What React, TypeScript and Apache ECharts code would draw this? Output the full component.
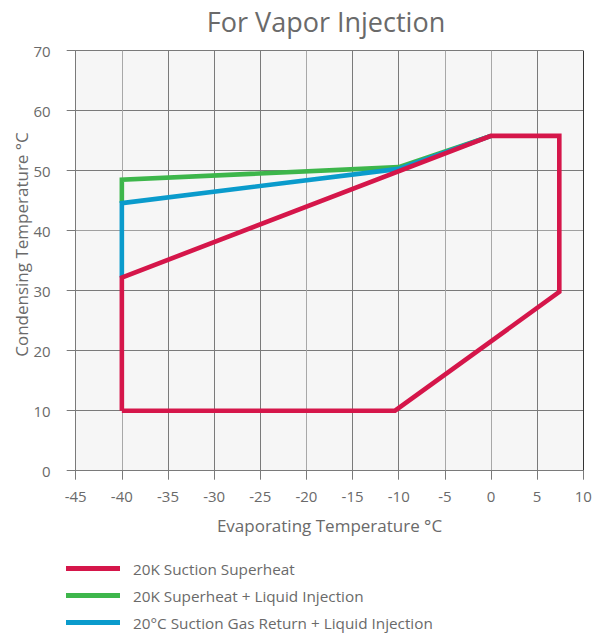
import React, { useEffect, useRef } from "react";
import * as echarts from "echarts";

const title = "For Vapor Injection";
const xAxisName = "Evaporating Temperature °C";
const yAxisName = "Condensing Temperature °C";
const seriesNames = [
  "20K Suction Superheat",
  "20K Superheat + Liquid Injection",
  "20°C Suction Gas Return + Liquid Injection",
];
const seriesColors = ["#d5164a", "#3db64b", "#0a9bcc"];

// [evaporating, condensing]
const suctionSuperheat: number[][] = [
  [-40, 10],
  [-10.4, 10],
  [7.4, 29.8],
  [7.4, 55.8],
  [0, 55.8],
  [-40, 32.2],
  [-40, 10],
];
const superheatLiquidInjection: number[][] = [
  [-40, 44.6],
  [-40, 48.5],
  [-10, 50.6],
  [0, 55.8],
];
const gasReturnLiquidInjection: number[][] = [
  [-40, 32.2],
  [-40, 44.6],
  [-10, 50.3],
  [0, 55.8],
];

const FONT = "Open Sans";
const TEXT = "#6a6a6a";

export default function App() {
  const ref = useRef<HTMLDivElement>(null);
  useEffect(() => {
    document.body.style.margin = "0";
    const chart = echarts.init(ref.current!, undefined, { renderer: "svg" });
    const lineSeries = (name: string, data: number[][], color: string, z: number) => ({
      name,
      type: "line",
      data,
      showSymbol: false,
      symbol: "none",
      z,
      lineStyle: { color, width: 4.6, join: "miter", cap: "butt" },
      itemStyle: { color },
    });
    const legendItem = (name: string, top: number) => ({
      data: [{ name, icon: "rect" }],
      left: 66,
      top,
      padding: 0,
      orient: "vertical",
      itemWidth: 54,
      itemHeight: 5,
      selectedMode: false,
      textStyle: { color: TEXT, fontFamily: FONT, fontSize: 15.3, padding: [0, 0, 0, 8] },
    });
    chart.setOption({
      animation: false,
      textStyle: { fontFamily: FONT },
      graphic: [
        {
          type: "text",
          x: 326,
          y: 8,
          style: {
            text: title,
            fill: TEXT,
            font: `27px "${FONT}"`,
            textAlign: "center",
            textVerticalAlign: "top",
          },
        },
        {
          type: "text",
          x: 21,
          y: 244.5,
          rotation: Math.PI / 2,
          style: {
            text: yAxisName,
            fill: TEXT,
            font: `17px "${FONT}"`,
            textAlign: "center",
            textVerticalAlign: "middle",
          },
        },
      ],
      legend: [
        legendItem(seriesNames[0], 561),
        legendItem(seriesNames[1], 588),
        legendItem(seriesNames[2], 615),
      ],
      grid: {
        left: 75.7,
        right: 14.7,
        top: 50.7,
        bottom: 166.3,
        show: true,
        backgroundColor: "#f6f6f6",
        borderWidth: 0,
      },
      xAxis: {
        type: "value",
        min: -45,
        max: 10,
        interval: 5,
        name: xAxisName,
        nameLocation: "middle",
        nameGap: 46,
        nameTextStyle: { color: TEXT, fontFamily: FONT, fontSize: 17 },
        axisLine: { show: true, onZero: false, lineStyle: { color: "#7a7a7a", width: 1 } },
        axisTick: { show: true, length: 9, lineStyle: { color: "#7a7a7a" } },
        axisLabel: { color: TEXT, fontFamily: FONT, fontSize: 15, margin: 18 },
        splitLine: {
          show: true,
          lineStyle: {
            color: [
              "#7a7a7a", "#a8a8a8", "#7a7a7a", "#7a7a7a", "#7a7a7a", "#a8a8a8",
              "#7a7a7a", "#7a7a7a", "#a8a8a8", "#a8a8a8", "#7a7a7a", "#333333",
            ],
            width: 1,
          },
        },
      },
      yAxis: {
        type: "value",
        min: 0,
        max: 70,
        interval: 10,
        axisLine: { show: true, onZero: false, lineStyle: { color: "#7a7a7a", width: 1 } },
        axisTick: { show: true, length: 9, lineStyle: { color: "#7a7a7a" } },
        axisLabel: { color: TEXT, fontFamily: FONT, fontSize: 15, margin: 25 },
        splitLine: {
          show: true,
          lineStyle: {
            color: ["#7a7a7a", "#7a7a7a", "#7a7a7a", "#7a7a7a", "#a0a0a0", "#7a7a7a", "#7a7a7a", "#7a7a7a"],
            width: 1,
          },
        },
      },
      series: [
        lineSeries(seriesNames[1], superheatLiquidInjection, seriesColors[1], 2),
        lineSeries(seriesNames[2], gasReturnLiquidInjection, seriesColors[2], 3),
        lineSeries(seriesNames[0], suctionSuperheat, seriesColors[0], 4),
      ],
    });
    return () => chart.dispose();
  }, []);
  return <div ref={ref} style={{ width: 598, height: 637 }} />;
}
